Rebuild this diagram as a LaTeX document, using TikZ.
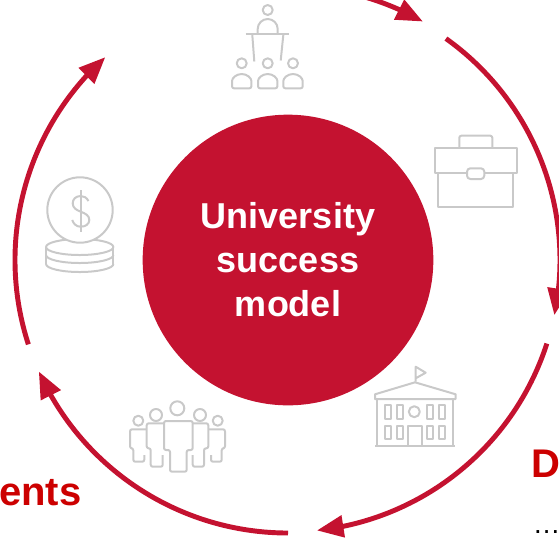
\documentclass[tikz,border=0pt]{standalone}
\usepackage{fontspec}
\setmainfont{Liberation Sans}
\usetikzlibrary{calc,arrows.meta,bending}
\definecolor{unired}{HTML}{C41230}
\definecolor{headred}{HTML}{CC0000}
\definecolor{icongray}{HTML}{C9C9C9}
\tikzset{
	ringarrow/.style={unired,line width=3.7pt,-{Triangle[length=20pt,width=16pt,flex=1]}},
	icon/.style={icongray,line width=1.5pt,line join=round},
	roundicon/.style={icon,rounded corners=1.5pt},
	heading/.style={headred,font=\bfseries\fontsize{30}{36}\selectfont,inner sep=0pt},
}
\begin{document}
\begin{tikzpicture}[x=0.75pt,y=-0.75pt]
	\useasboundingbox (0,0) rectangle (559,537);
	\coordinate (O) at (288,260);
	% ring of arrows
	\foreach \from/\to/\rad in {-76/-60.5/274,-54.5/11.7/272,17.9/83.9/272,90/155.9/273,162/228/273}{
		\coordinate (start) at ($(O)+(\from:\rad)$);
		\draw[ringarrow] (start) arc (\from:\to:\rad);
	}
	% hub
	\node (hub) at (O) [circle,fill=unired,minimum size=218pt,inner sep=0pt,text=white,align=center,
		font=\bfseries\fontsize{27}{33}\selectfont] {University\\success\\model};
	% speaker and audience
	\draw[icon] (267.7,10) circle (5);
	\draw[icon] (257.7,34) -- (257.7,29) arc (180:360:10 and 10) -- (277.7,34);
	\draw[icon] (245.5,34) -- (289,34);
	\draw[icon] (252.3,35) -- (254.3,61.5);
	\draw[icon] (283.3,35) -- (280.7,60.5);
	\foreach \x in {241.7,267.7,293}{
		\draw[icon] (\x,63.3) circle (5);
		\draw[roundicon] (\x-9.7,88.3) -- (\x-9.7,83) arc (180:360:9.7 and 9) -- (\x+9.7,88.3) -- cycle;
	}
	% briefcase
	\draw[roundicon] (459.3,147.7) -- (459.3,135.7) -- (492.3,135.7) -- (492.3,147.7);
	\draw[icon] (434.7,147.7) rectangle (516.7,172.7);
	\draw[icon] (437.7,172.7) -- (437.7,207.3) -- (513.3,207.3) -- (513.3,172.7);
	\draw[icon,fill=white,rounded corners=2.5pt] (467,168.3) rectangle (484.3,179);
	% coins
	\draw[icon] (46,247) arc (180:0:33.7 and -8);
	\draw[icon] (46,247) arc (180:360:33.7 and -8);
	\draw[icon] (46,247) -- (46,264);
	\draw[icon] (113.4,247) -- (113.4,264);
	\draw[icon] (46,255) arc (180:360:33.7 and -8);
	\draw[icon] (46,264) arc (180:360:33.7 and -8);
	\draw[icon,fill=white] (80,210) circle (32.7);
	\draw[icon] (80.7,190) -- (80.7,231.7);
	\draw[icon] (88.5,201) .. controls (86.5,197.5) and (84,196) .. (80.7,196)
		.. controls (75.5,196) and (72.7,199.5) .. (72.7,203.3)
		.. controls (72.7,208) and (76.5,210) .. (80.7,211.7)
		.. controls (85.5,213.5) and (89.3,215.5) .. (89.3,220)
		.. controls (89.3,224) and (85.5,226.7) .. (80.7,226.7)
		.. controls (76.5,226.7) and (73.5,224) .. (72.2,220);
	% building
	\draw[icon] (415.7,381.7) -- (415.7,366.7) -- (425.7,372.7) -- (415.7,378.3);
	\draw[icon] (375,399) -- (375,394.3) -- (415,382.3) -- (455.7,394.3) -- (455.7,399) -- cycle;
	\draw[icon] (377.3,399) -- (377.3,445.7);
	\draw[icon] (453.3,399) -- (453.3,445.7);
	\draw[icon] (375,445.7) -- (455,445.7);
	\draw[icon] (414.3,411.7) circle (5.5);
	\draw[icon] (408.3,445.7) -- (408.3,425.7) -- (421.7,425.7) -- (421.7,445.7);
	\foreach \x in {385,396.7,426.7,439}{
		\draw[icon] (\x,405) rectangle (\x+6,419);
		\draw[icon] (\x,425.7) rectangle (\x+6,439);
	}
	% people
	\draw[icon] (177.3,408.3) circle (7);
	\draw[icon] (156,415) circle (6);
	\draw[icon] (200,415) circle (6);
	\draw[icon] (138.3,420.7) circle (5);
	\draw[icon] (217.7,420.7) circle (5);
	\draw[roundicon] (164,421) -- (192.7,421) -- (192.7,450) -- (186.7,450) -- (186.7,471.7) -- (170,471.7) -- (170,450) -- (164,450) -- cycle;
	\draw[roundicon] (164,423.3) -- (146.7,423.3) -- (146.7,448.3) -- (150.7,448.3) -- (150.7,466.7) -- (162.7,466.7) -- (162.7,455);
	\draw[roundicon] (192.7,423.3) -- (208.3,423.3) -- (208.3,448.3) -- (204,448.3) -- (204,466.7) -- (192.7,466.7) -- (192.7,455);
	\draw[roundicon] (146.7,429.3) -- (130,429.3) -- (130,448.3) -- (133.3,448.3) -- (133.3,461.7) -- (144.3,461.7) -- (144.3,455);
	\draw[roundicon] (208.3,429.3) -- (225,429.3) -- (225,448.3) -- (221.7,448.3) -- (221.7,461.7) -- (211,461.7) -- (211,455);
	% cut-off headings
	\node (ents) at (-1,505.5) [heading,anchor=base west] {ents};
	\node (dhead) at (531,477.5) [heading,anchor=base west] {D};
	\node (dots) at (532.5,533) [anchor=base west,inner sep=0pt,font=\fontsize{20.7}{24}\selectfont] {…};
\end{tikzpicture}
\end{document}
